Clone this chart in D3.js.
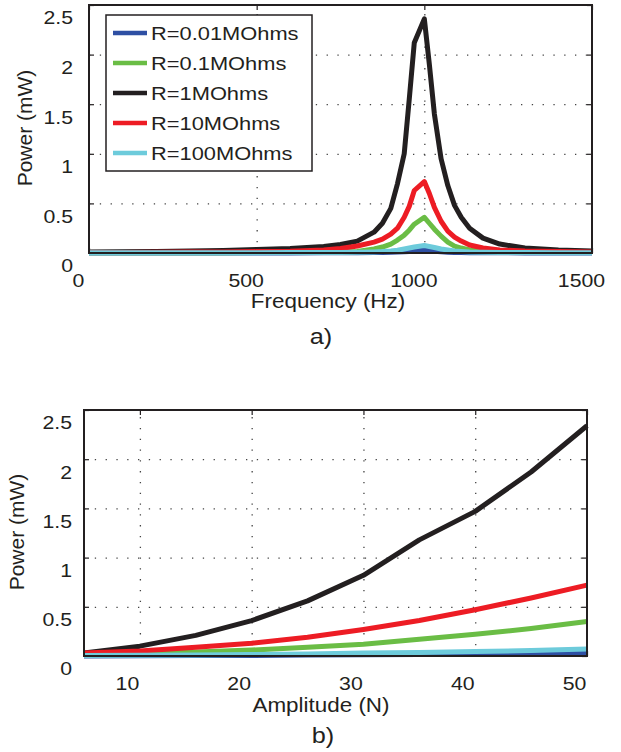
<!DOCTYPE html>
<html>
<head>
<meta charset="utf-8">
<script src="https://cdn.jsdelivr.net/npm/d3@7"></script>
<style>
  body { margin: 0; background: #fff; }
  svg text { font-family: "Liberation Sans", Arial, sans-serif; fill: #231f20; }
</style>
</head>
<body>
<svg width="621" height="752"></svg>
<script>
// series names and colours
var names = ["R=0.01MOhms", "R=0.1MOhms", "R=1MOhms", "R=10MOhms", "R=100MOhms"];
var colors = ["#2e4fa3", "#6abd45", "#231f20", "#ed1c24", "#6dcbdb"];

// a) power vs frequency
var freq = [0, 100, 200, 300, 400, 500, 600, 700, 750, 800, 850, 875, 900, 920, 940, 955, 970, 1000,
            1015, 1030, 1050, 1070, 1090, 1110, 1135, 1175, 1225, 1300, 1400, 1500];
var pBlue  = [0.001, 0.001, 0.001, 0.001, 0.001, 0.001, 0.001, 0.002, 0.002, 0.003, 0.004, 0.005, 0.007, 0.009, 0.012, 0.016, 0.022, 0.03,
              0.024, 0.018, 0.012, 0.008, 0.006, 0.004, 0.003, 0.002, 0.002, 0.001, 0.001, 0.001];
var pGreen = [0.002, 0.002, 0.002, 0.003, 0.003, 0.004, 0.005, 0.008, 0.011, 0.016, 0.04, 0.06, 0.09, 0.13, 0.18, 0.23, 0.29, 0.36,
              0.3, 0.24, 0.17, 0.11, 0.07, 0.05, 0.03, 0.02, 0.012, 0.008, 0.005, 0.004];
var pBlack = [0.01, 0.012, 0.015, 0.02, 0.025, 0.035, 0.045, 0.065, 0.085, 0.12, 0.21, 0.3, 0.45, 0.7, 1.0, 1.55, 2.12, 2.36,
              1.9, 1.4, 0.95, 0.68, 0.48, 0.36, 0.25, 0.15, 0.09, 0.05, 0.03, 0.02];
var pRed   = [0.005, 0.006, 0.007, 0.009, 0.011, 0.014, 0.018, 0.03, 0.045, 0.07, 0.11, 0.14, 0.19, 0.25, 0.36, 0.47, 0.63, 0.72,
              0.6, 0.46, 0.32, 0.22, 0.16, 0.12, 0.08, 0.05, 0.03, 0.02, 0.015, 0.01];
var pCyan  = [0.003, 0.003, 0.003, 0.003, 0.003, 0.003, 0.004, 0.005, 0.006, 0.008, 0.011, 0.014, 0.02, 0.027, 0.04, 0.05, 0.06, 0.075,
              0.065, 0.055, 0.04, 0.03, 0.02, 0.015, 0.01, 0.007, 0.005, 0.004, 0.003, 0.003];

// b) power vs amplitude
var amp = [5, 10, 15, 20, 25, 30, 35, 40, 45, 50];
var aBlue  = [0.001, 0.002, 0.004, 0.006, 0.009, 0.012, 0.016, 0.02, 0.025, 0.03];
var aGreen = [0.02, 0.025, 0.04, 0.06, 0.09, 0.12, 0.17, 0.22, 0.28, 0.35];
var aBlack = [0.03, 0.1, 0.21, 0.36, 0.56, 0.82, 1.18, 1.47, 1.87, 2.34];
var aRed   = [0.03, 0.05, 0.09, 0.13, 0.19, 0.27, 0.36, 0.47, 0.59, 0.72];
var aCyan  = [0.005, 0.008, 0.01, 0.015, 0.02, 0.03, 0.035, 0.045, 0.055, 0.07];

var freqTicks = [0, 500, 1000, 1500];
var ampTicks = [10, 20, 30, 40, 50];
var powerTicks = [0, 0.5, 1, 1.5, 2, 2.5];

var svg = d3.select("svg");
var ink = "#231f20";
var sx = 1.15; // the source figure is a bit wider than tall

// one panel: frame, grid, ticks, lines
function panel(o) {
    var x = d3.scaleLinear().domain(o.xDomain).range([o.left, o.right]);
    var y = d3.scaleLinear().domain([0, 2.5]).range([o.bottom, o.top]);
    var w = o.right - o.left, h = o.bottom - o.top;
    var g = svg.append("g");

    // dotted grid
    var grid = g.append("g").attr("class", "grid");
    grid.append("g")
        .attr("transform", "translate(0," + o.bottom + ")")
        .call(d3.axisBottom(x).tickValues(o.xGrid).tickSize(-h).tickFormat(""));
    grid.append("g")
        .attr("transform", "translate(" + o.left + ",0)")
        .call(d3.axisLeft(y).tickValues([0.5, 1, 1.5, 2]).tickSize(-w).tickFormat(""));
    grid.selectAll(".domain").remove();
    grid.selectAll(".tick line")
        .attr("stroke", "#444")
        .attr("stroke-width", 1.3)
        .attr("stroke-dasharray", "1.3,9.5");

    // inner ticks on all four sides
    var ax = g.append("g");
    var xb = ax.append("g").attr("transform", "translate(0," + o.bottom + ")")
        .call(d3.axisBottom(x).tickValues(o.xTickAt).tickSize(-5).tickFormat(String));
    ax.append("g").attr("transform", "translate(0," + o.top + ")")
        .call(d3.axisTop(x).tickValues(o.xTickAt).tickSize(-5).tickFormat(""));
    var yl = ax.append("g").attr("transform", "translate(" + o.left + ",0)")
        .call(d3.axisLeft(y).tickValues(powerTicks).tickSize(-5).tickFormat(String));
    ax.append("g").attr("transform", "translate(" + o.right + ",0)")
        .call(d3.axisRight(y).tickValues(powerTicks).tickSize(-5).tickFormat(""));
    ax.selectAll(".domain").remove();
    ax.selectAll(".tick line").attr("stroke", ink).attr("stroke-width", 1.2);

    xb.selectAll("text")
        .attr("font-size", 18.5)
        .attr("text-anchor", "middle")
        .attr("x", o.xLabelDx / sx)
        .attr("y", 34)
        .attr("dy", null)
        .attr("transform", "scale(" + sx + ",1)");
    yl.selectAll("text")
        .attr("font-size", 18.5)
        .attr("text-anchor", "end")
        .attr("x", o.yLabelDx / sx)
        .attr("y", 19)
        .attr("dy", null)
        .attr("transform", "scale(" + sx + ",1)");
    ax.selectAll(".tick text").attr("fill", ink);

    // data lines
    var line = d3.line()
        .x(function (d) { return x(d[0]); })
        .y(function (d) { return y(d[1]); });
    o.series.forEach(function (vals, i) {
        g.append("path")
            .datum(o.xs.map(function (v, j) { return [v, vals[j]]; }))
            .attr("fill", "none")
            .attr("stroke", colors[i])
            .attr("stroke-width", 5)
            .attr("stroke-linejoin", "round")
            .attr("d", line);
    });

    // frame
    g.append("rect")
        .attr("x", o.left).attr("y", o.top)
        .attr("width", w).attr("height", h)
        .attr("fill", "none")
        .attr("stroke", ink)
        .attr("stroke-width", 2);

    return { g: g, x: x, y: y };
}

function stretched(x, y, str, size, anchor) {
    return svg.append("text")
        .attr("transform", "translate(" + x + "," + y + ") scale(" + sx + ",1)")
        .attr("font-size", size)
        .attr("text-anchor", anchor || "middle")
        .text(str);
}

function yTitle(x, y) {
    svg.append("text")
        .attr("transform", "translate(" + x + "," + y + ") rotate(-90)")
        .attr("font-size", 21)
        .attr("text-anchor", "middle")
        .text("Power (mW)");
}

// panel a)
var pa = panel({
    left: 89, right: 592, top: 5, bottom: 253,
    xDomain: [0, 1500], xs: freq,
    xGrid: [500, 1000], xTickAt: freqTicks,
    xLabelDx: -11, yLabelDx: -16,
    series: [pBlue, pGreen, pBlack, pRed, pCyan]
});
stretched(328, 308, "Frequency (Hz)", 19.5);
stretched(321, 344, "a)", 22);
yTitle(32, 128);

// legend
var lg = svg.append("g").attr("transform", "translate(106,15)");
lg.append("rect")
    .attr("width", 206).attr("height", 156)
    .attr("fill", "#fff")
    .attr("stroke", ink)
    .attr("stroke-width", 1.5);
names.forEach(function (n, i) {
    var yy = 18 + i * 30;
    lg.append("line")
        .attr("x1", 7).attr("x2", 41)
        .attr("y1", yy).attr("y2", yy)
        .attr("stroke", colors[i])
        .attr("stroke-width", 4.5);
    lg.append("text")
        .attr("transform", "translate(45," + (yy + 7) + ") scale(" + sx + ",1)")
        .attr("font-size", 19)
        .text(n);
});

// panel b)
var pb = panel({
    left: 84, right: 587, top: 410, bottom: 656,
    xDomain: [5, 50], xs: amp,
    xGrid: [10, 20, 30, 40], xTickAt: ampTicks,
    xLabelDx: -13, yLabelDx: -12,
    series: [aBlue, aGreen, aBlack, aRed, aCyan]
});
stretched(321, 712, "Amplitude (N)", 19.5);
stretched(323, 743, "b)", 22);
yTitle(24, 532);
</script>
</body>
</html>
